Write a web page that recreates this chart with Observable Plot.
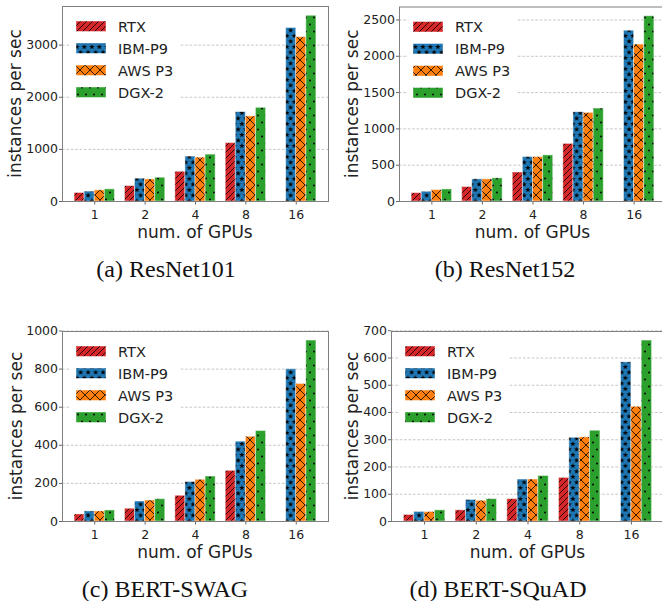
<!DOCTYPE html>
<html><head><meta charset="utf-8">
<script src="https://cdn.jsdelivr.net/npm/d3@7"></script>
<script src="https://cdn.jsdelivr.net/npm/@observablehq/plot@0.6"></script>
<style>
html,body{margin:0;padding:0;background:#fff;}
#page{position:relative;width:662px;height:601px;overflow:hidden;background:#fff;}
.panel{position:absolute;}
.panel svg{max-width:none !important;}
</style></head><body>
<svg id="defs" width="0" height="0" style="position:absolute;left:0;top:0"><defs></defs></svg>
<div id="page"></div>
<script>
// ---------- data ----------
const gpus = ["1", "2", "4", "8", "16"];
const systems = ["RTX", "IBM-P9", "AWS P3", "DGX-2"];
const colors = ["#d62728", "#1f77b4", "#ff7f0e", "#2ca02c"];

// (a) ResNet101
const r101RTX = [163, 296, 570, 1120, null];
const r101IBM = [190, 437, 861, 1715, 3329];
const r101AWS = [214, 423, 842, 1633, 3152];
const r101DGX = [233, 456, 899, 1797, 3563];
const r101Ticks = [0, 1000, 2000, 3000];
// (b) ResNet152
const r152RTX = [115, 199, 399, 793, null];
const r152IBM = [134, 305, 612, 1229, 2352];
const r152AWS = [157, 305, 612, 1220, 2161];
const r152DGX = [166, 319, 635, 1280, 2551];
const r152Ticks = [0, 500, 1000, 1500, 2000, 2500];
// (c) BERT-SWAG
const swagRTX = [37, 67, 135, 266, null];
const swagIBM = [53, 105, 207, 419, 799];
const swagAWS = [53, 110, 219, 445, 722];
const swagDGX = [58, 117, 236, 475, 950];
const swagTicks = [0, 200, 400, 600, 800, 1000];
// (d) BERT-SQuAD
const squadRTX = [24, 41, 82, 160, null];
const squadIBM = [35, 79, 154, 307, 584];
const squadAWS = [35, 76, 154, 309, 421];
const squadDGX = [41, 82, 167, 333, 664];
const squadTicks = [0, 100, 200, 300, 400, 500, 600, 700];

const captions = ["(a) ResNet101", "(b) ResNet152", "(c) BERT-SWAG", "(d) BERT-SQuAD"];
const yLabel = "instances per sec";
const xLabel = "num. of GPUs";

// ---------- hatch patterns ----------
function starPath(cx, cy, R, r) {
  let p = "";
  for (let k = 0; k < 10; k++) {
    const a = -Math.PI / 2 + k * Math.PI / 5;
    const rad = k % 2 ? r : R;
    p += (k ? "L" : "M") + (cx + rad * Math.cos(a)).toFixed(2) + "," + (cy + rad * Math.sin(a)).toFixed(2);
  }
  return p + "Z";
}
const defs = d3.select("#defs defs");
// RTX: ///
{
  const s = 6;
  const p = defs.append("pattern").attr("id", "hatch0").attr("patternUnits", "userSpaceOnUse").attr("width", s).attr("height", s);
  p.append("rect").attr("width", s).attr("height", s).attr("fill", colors[0]);
  p.append("path").attr("d", `M0,${s} L${s},0 M${-s/2},${s/2} L${s/2},${-s/2} M${s/2},${s*1.5} L${s*1.5},${s/2}`).attr("stroke", "#000").attr("stroke-width", 0.8).attr("fill", "none");
}
// IBM: stars
{
  const w = 7.5, h = 11;
  const p = defs.append("pattern").attr("id", "hatch1").attr("patternUnits", "userSpaceOnUse").attr("width", w).attr("height", h);
  p.append("rect").attr("width", w).attr("height", h).attr("fill", colors[1]);
  const R = 2.8, r = 1.2;
  p.append("path").attr("d", starPath(w / 4, 2.9, R, r) + starPath(3 * w / 4, 8.4, R, r)
    + starPath(w + w / 4, 2.9, R, r) + starPath(-w / 4, 8.4, R, r)
    + starPath(w / 4, 2.9 + h, R, r) + starPath(3 * w / 4, 8.4 - h, R, r)).attr("fill", "#000");
}
// AWS: x
{
  const s = 10;
  const p = defs.append("pattern").attr("id", "hatch2").attr("patternUnits", "userSpaceOnUse").attr("width", s).attr("height", s);
  p.append("rect").attr("width", s).attr("height", s).attr("fill", colors[2]);
  p.append("path").attr("d", `M0,0 L${s},${s} M${s},0 L0,${s}`).attr("stroke", "#000").attr("stroke-width", 0.8).attr("fill", "none");
}
// DGX: dots
{
  const w = 8, h = 14;
  const p = defs.append("pattern").attr("id", "hatch3").attr("patternUnits", "userSpaceOnUse").attr("width", w).attr("height", h);
  p.append("rect").attr("width", w).attr("height", h).attr("fill", colors[3]);
  p.append("circle").attr("cx", 2).attr("cy", 3.5).attr("r", 1).attr("fill", "#000");
  p.append("circle").attr("cx", 6).attr("cy", 10.5).attr("r", 1).attr("fill", "#000");
}

// ---------- panels ----------
const panels = [
  {series: [r101RTX, r101IBM, r101AWS, r101DGX], ticks: r101Ticks, svgLeft: 0, svgTop: 0, L: 62, R: 328, T: 6, B: 201, yLabelX: 20.5, cap: captions[0], capX: 166, capY: 276.5},
  {series: [r152RTX, r152IBM, r152AWS, r152DGX], ticks: r152Ticks, svgLeft: 331, svgTop: 0, L: 399, R: 666, T: 6.5, B: 201, yLabelX: 358, cap: captions[1], capX: 505, capY: 277},
  {series: [swagRTX, swagIBM, swagAWS, swagDGX], ticks: swagTicks, svgLeft: 0, svgTop: 320, L: 62, R: 328, T: 331, B: 521, yLabelX: 21.5, cap: captions[2], capX: 165, capY: 597},
  {series: [squadRTX, squadIBM, squadAWS, squadDGX], ticks: squadTicks, svgLeft: 331, svgTop: 320, L: 391, R: 664, T: 331, B: 521, yLabelX: 358, cap: captions[3], capX: 498, capY: 597}
];

const page = document.getElementById("page");
const barW = 0.2;
const font = "'DejaVu Sans', sans-serif";

panels.forEach(cfg => {
  const data = [];
  cfg.series.forEach((vals, si) => vals.forEach((v, gi) => { if (v != null) data.push({gi, si, v}); }));
  const ymax = 1.05 * d3.max(data, d => d.v);
  const svgW = cfg.svgLeft === 0 ? 331 : cfg.R - cfg.svgLeft + 2;
  const svgH = 250;
  const ml = cfg.L - cfg.svgLeft, mt = cfg.T - cfg.svgTop, mr = cfg.svgLeft + svgW - cfg.R, mb = cfg.svgTop + svgH - cfg.B;

  const svg = Plot.plot({
    width: svgW, height: svgH,
    marginLeft: ml, marginTop: mt, marginRight: mr, marginBottom: mb,
    style: {fontFamily: font, fontSize: "12.5px", color: "#222", background: "transparent", overflow: "visible"},
    x: {domain: [-0.64, 4.64], ticks: d3.range(gpus.length), tickFormat: i => gpus[i], tickSize: 3.5, tickPadding: 5.5, label: null},
    y: {domain: [0, ymax], ticks: cfg.ticks, tickFormat: d3.format("d"), tickSize: 3, tickPadding: 1.5, label: null},
    marks: [
      Plot.ruleY(cfg.ticks.slice(1), {stroke: "#b8b8b8", strokeWidth: 0.8, strokeDasharray: "2.6,1.8"}),
      ...systems.map((s, si) => Plot.rect(data.filter(d => d.si === si), {
        x1: d => d.gi + (si - 2) * barW,
        x2: d => d.gi + (si - 1) * barW,
        y1: 0, y2: "v",
        fill: `url(#hatch${si})`, stroke: "#ffffff", strokeOpacity: 0.45, strokeWidth: 1
      })),
      Plot.frame({stroke: "#7f7f7f", strokeWidth: 1})
    ]
  });

  const sel = d3.select(svg);
  sel.selectAll('g[aria-label="x-axis tick"], g[aria-label="y-axis tick"]').attr("stroke", "#666");

  // axis labels
  sel.append("text").attr("x", ml + (cfg.R - cfg.L) / 2).attr("y", cfg.B - cfg.svgTop + 36.5)
    .attr("text-anchor", "middle").attr("font-family", font).attr("font-size", 17).attr("fill", "#222").text(xLabel);
  sel.append("text").attr("transform", `translate(${cfg.yLabelX - cfg.svgLeft},${mt + (cfg.B - cfg.T) / 2}) rotate(-90)`)
    .attr("text-anchor", "middle").attr("font-family", font).attr("font-size", 17).attr("fill", "#222").text(yLabel);

  // legend
  const lg = sel.append("g").attr("text-anchor", "start");
  lg.append("rect").attr("x", ml + 9.5).attr("y", mt + 9).attr("width", 107).attr("height", 88).attr("rx", 3)
    .attr("fill", "#fff").attr("stroke", "#fff");
  systems.forEach((s, i) => {
    const y0 = mt + 15 + i * 22;
    lg.append("rect").attr("x", ml + 14).attr("y", y0).attr("width", 30).attr("height", 10.5)
      .attr("fill", `url(#hatch${i})`).attr("stroke", "#fff").attr("stroke-opacity", 0.45);
    lg.append("text").attr("x", ml + 56).attr("y", y0 + 10.5).attr("text-anchor", "start")
      .attr("font-family", font).attr("font-size", 14.5).attr("fill", "#222").text(s);
  });

  const div = document.createElement("div");
  div.className = "panel";
  div.style.left = cfg.svgLeft + "px";
  div.style.top = cfg.svgTop + "px";
  div.style.width = svgW + "px";
  div.style.height = svgH + "px";
  svg.style.maxWidth = "none";
  div.appendChild(svg);
  page.appendChild(div);
});

// captions overlay
const ov = d3.select(page).append("svg").attr("width", 662).attr("height", 601)
  .style("position", "absolute").style("left", "0px").style("top", "0px").style("pointer-events", "none");
panels.forEach(cfg => {
  ov.append("text").attr("x", cfg.capX).attr("y", cfg.capY).attr("text-anchor", "middle")
    .attr("font-family", "'Liberation Serif', 'Times New Roman', serif").attr("font-size", 24).attr("fill", "#111").text(cfg.cap);
});
</script>
</body></html>
